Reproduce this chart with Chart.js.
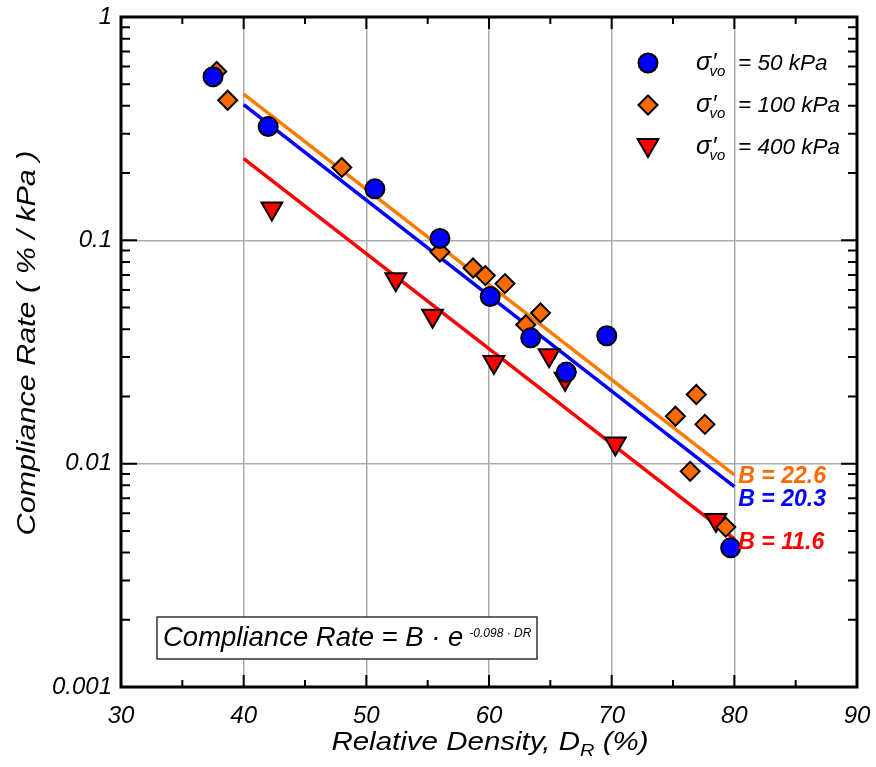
<!DOCTYPE html>
<html lang="en">
<head>
<meta charset="UTF-8">
<title>Compliance Rate vs Relative Density</title>
<script src="https://cdn.jsdelivr.net/npm/chart.js"></script>
<style>
  html, body { margin: 0; padding: 0; background: #fff; }
</style>
</head>
<body>
<canvas id="chart" width="876" height="767"></canvas>
<script>
// sigma'vo = 50 kPa
const dr50 = [37.5, 42.0, 50.7, 56.0, 60.1, 63.4, 66.3, 69.6, 79.7];
const cr50 = [0.54, 0.323, 0.170, 0.102, 0.056, 0.0366, 0.0257, 0.0374, 0.0042];
// sigma'vo = 100 kPa
const dr100 = [37.8, 38.7, 48.0, 56.0, 58.7, 59.7, 61.3, 63.0, 64.2, 75.2, 76.4, 76.9, 77.6, 79.3];
const cr100 = [0.57, 0.424, 0.212, 0.0887, 0.0752, 0.0695, 0.064, 0.0419, 0.0473, 0.0163, 0.00924, 0.0204, 0.0150, 0.0052];
// sigma'vo = 400 kPa
const dr400 = [42.3, 52.4, 55.4, 60.4, 64.9, 66.2, 70.3, 78.5];
const cr400 = [0.139, 0.067, 0.046, 0.0285, 0.0306, 0.024, 0.0123, 0.0056];
// fitted lines (end points)
const fitDR = [40, 80];
const fit50 = [0.405, 0.0079];
const fit100 = [0.452, 0.0089];
const fit400 = [0.232, 0.0046];
const fitLabels = ['B = 22.6', 'B = 20.3', 'B = 11.6'];
const legendLabels = ['50 kPa', '100 kPa', '400 kPa'];
const xTicks = [30, 40, 50, 60, 70, 80, 90];
const yTicks = [0.001, 0.01, 0.1, 1];

const FONT = "'Liberation Sans', Arial, sans-serif";
const BLUE = '#0000ff', ORANGE = '#ff6a00', RED = '#ff0000';

const pts = (xs, ys) => xs.map((x, i) => ({ x: x, y: ys[i] }));

// draw a run of text pieces: [text, size, dy, weight, gap]
function drawRuns(ctx, x, y, runs, color) {
    ctx.fillStyle = color;
    ctx.textBaseline = 'alphabetic';
    ctx.textAlign = 'left';
    runs.forEach(r => {
        ctx.font = 'italic ' + (r[3] || 'normal') + ' ' + r[1] + 'px ' + FONT;
        ctx.fillText(r[0], x + (r[4] || 0), y + r[2]);
        x += ctx.measureText(r[0]).width + (r[4] || 0);
    });
    return x;
}

// text slightly stretched sideways, like the original figure's titles
function stretched(ctx, x, y, rot, runs, sx) {
    ctx.save();
    ctx.translate(x, y);
    ctx.rotate(rot);
    ctx.scale(sx, 1);
    let w = 0;
    runs.forEach(r => { ctx.font = 'italic ' + r[1] + 'px ' + FONT; w += ctx.measureText(r[0]).width; });
    drawRuns(ctx, -w / 2, 0, runs, '#000');
    ctx.restore();
}

const decor = {
    id: 'decor',
    afterDatasetsDraw(chart) {
        const ctx = chart.ctx;
        const a = chart.chartArea;
        const xs = chart.scales.x, ys = chart.scales.y;
        ctx.save();
        // inward ticks
        ctx.strokeStyle = '#000';
        ctx.lineWidth = 2;
        ctx.beginPath();
        for (let v = 30; v <= 90; v += 5) {
            const px = xs.getPixelForValue(v);
            const len = v % 10 === 0 ? 12 : 7;
            ctx.moveTo(px, a.bottom); ctx.lineTo(px, a.bottom - len);
            ctx.moveTo(px, a.top); ctx.lineTo(px, a.top + len);
        }
        for (let d = 0.001; d < 1.5; d *= 10) {
            for (let m = 1; m <= 9; m++) {
                const v = d * m;
                if (v > 1.0001) break;
                const py = ys.getPixelForValue(v);
                const len = m === 1 ? 16 : 9;
                ctx.moveTo(a.left, py); ctx.lineTo(a.left + len, py);
                ctx.moveTo(a.right, py); ctx.lineTo(a.right - len, py);
            }
        }
        ctx.stroke();
        // frame
        ctx.lineWidth = 3;
        ctx.strokeRect(a.left, a.top, a.right - a.left, a.bottom - a.top);

        // fit labels
        const lx = xs.getPixelForValue(80) + 4;
        ctx.font = 'italic bold 23px ' + FONT;
        ctx.textAlign = 'left';
        ctx.fillStyle = ORANGE; ctx.fillText(fitLabels[0], lx, 483);
        ctx.fillStyle = BLUE; ctx.fillText(fitLabels[1], lx, 506);
        ctx.fillStyle = RED; ctx.fillText(fitLabels[2], lx, 549);

        // legend
        const styles = [
            { pointStyle: 'circle', radius: 9.5, rotation: 0, borderWidth: 2, fill: BLUE },
            { pointStyle: 'rectRot', radius: 9.5, rotation: 0, borderWidth: 2, fill: ORANGE },
            { pointStyle: 'triangle', radius: 12, rotation: 180, borderWidth: 2, fill: RED }
        ];
        styles.forEach((s, i) => {
            const cy = 63 + i * 42;
            ctx.fillStyle = s.fill;
            ctx.strokeStyle = '#000';
            ctx.lineWidth = 2;
            Chart.helpers.drawPoint(ctx, s, 648, cy + (i === 2 ? -2 : 0));
            const base = 70 + i * 42;
            let x = drawRuns(ctx, 696, base, [['\u03c3', 25, 0], ['\u2032', 24, 0, 'normal', 1]], '#000');
            x = drawRuns(ctx, x - 7, base, [['vo', 15, 6]], '#000');
            drawRuns(ctx, 738, base, [['= ' + legendLabels[i], 22.5, 0]], '#000');
        });

        // equation box
        ctx.fillStyle = '#fff';
        ctx.fillRect(157, 617, 380, 42);
        ctx.strokeStyle = '#333';
        ctx.lineWidth = 1.5;
        ctx.strokeRect(157, 617, 380, 42);
        let ex = drawRuns(ctx, 163, 646, [['Compliance Rate = B \u00b7 e', 27.5, 0]], '#000');
        drawRuns(ctx, ex + 6, 637, [['-0.098 \u00b7 DR', 12, 0]], '#000');

        // axis titles
        stretched(ctx, 35, 343, -Math.PI / 2, [['Compliance Rate ( % / kPa )', 25, 0]], 1.22);
        stretched(ctx, 490, 750, 0, [['Relative Density, D', 25, 0], ['R', 17, 6], [' (%)', 25, 0]], 1.18);
        ctx.restore();
    }
};

const ctx = document.getElementById('chart').getContext('2d');
new Chart(ctx, {
    type: 'scatter',
    data: {
        datasets: [
            { label: '50 kPa', data: pts(dr50, cr50), pointStyle: 'circle', pointRadius: 9.5,
              backgroundColor: BLUE, borderColor: '#000', borderWidth: 2, order: 0 },
            { label: '100 kPa', data: pts(dr100, cr100), pointStyle: 'rectRot', pointRadius: 9.5,
              backgroundColor: ORANGE, borderColor: '#000', borderWidth: 2, order: 1 },
            { label: '400 kPa', data: pts(dr400, cr400), pointStyle: 'triangle', rotation: 180, pointRadius: 12,
              backgroundColor: RED, borderColor: '#000', borderWidth: 2, order: 2 },
            { label: 'fit 100', data: pts(fitDR, fit100), showLine: true, pointRadius: 0,
              borderColor: '#ff7b00', borderWidth: 3.5, order: 3 },
            { label: 'fit 50', data: pts(fitDR, fit50), showLine: true, pointRadius: 0,
              borderColor: BLUE, borderWidth: 3.5, order: 3 },
            { label: 'fit 400', data: pts(fitDR, fit400), showLine: true, pointRadius: 0,
              borderColor: RED, borderWidth: 3.5, order: 3 }
        ]
    },
    options: {
        responsive: false,
        animation: false,
        layout: { padding: { top: 17, right: 19, left: 0, bottom: 0 } },
        plugins: { legend: { display: false }, tooltip: { enabled: false } },
        scales: {
            x: {
                type: 'linear', min: 30, max: 90,
                afterBuildTicks: s => { s.ticks = xTicks.map(v => ({ value: v })); },
                afterFit: s => { s.height = 80; s.paddingLeft = 0; s.paddingRight = 0; },
                grid: { color: '#ababab', lineWidth: 1.5, drawTicks: false },
                border: { display: false },
                ticks: { color: '#000', padding: 15, maxRotation: 0, autoSkip: false,
                         font: { family: FONT, size: 24, style: 'italic' } }
            },
            y: {
                type: 'logarithmic', min: 0.001, max: 1,
                afterBuildTicks: s => { s.ticks = yTicks.map(v => ({ value: v })); },
                afterFit: s => { s.width = 121; s.paddingTop = 0; s.paddingBottom = 0; },
                grid: { color: '#ababab', lineWidth: 1.5, drawTicks: false },
                border: { display: false },
                ticks: { color: '#000', padding: 9, autoSkip: false,
                         callback: v => String(v),
                         font: { family: FONT, size: 24, style: 'italic' } }
            }
        }
    },
    plugins: [decor]
});
</script>
</body>
</html>
